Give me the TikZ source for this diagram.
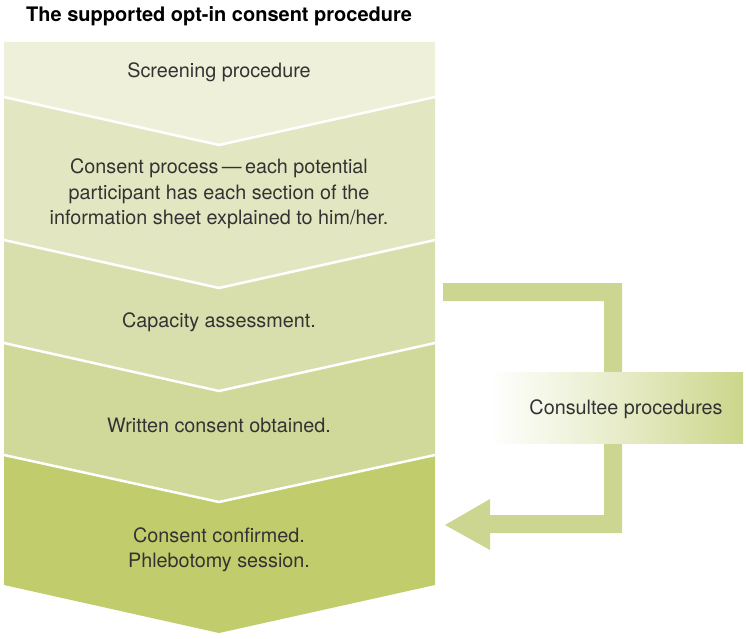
\documentclass[tikz,border=0pt]{standalone}
\usepackage{fontspec}
\setmainfont{TeX Gyre Heros}
\usetikzlibrary{shadings}
\definecolor{segA}{HTML}{EEF0D9}
\definecolor{segB}{HTML}{E3E7C1}
\definecolor{segC}{HTML}{D9DFAC}
\definecolor{segD}{HTML}{D0D99A}
\definecolor{segE}{HTML}{C1CD6C}
\definecolor{arrowgreen}{HTML}{CDD691}
\definecolor{boxgreen}{HTML}{CCD68A}
\definecolor{txt}{HTML}{333333}
\tikzset{
  steptext/.style={text=txt, font=\fontsize{19.8}{25.5}\selectfont, align=center, inner sep=0pt},
  sepline/.style={white, line width=2.5pt, line join=miter},
}
\begin{document}
\begin{tikzpicture}[x=1pt,y=-1pt]
\useasboundingbox (0,0) rectangle (746,639);
% title
\node[anchor=west, font=\fontsize{20}{24}\selectfont\bfseries, text=black, inner sep=0pt] (title) at (26,16) {The supported opt-in consent procedure};
% segments
\fill[segA] (4,42) -- (435,42) -- (435,97) -- (219,145) -- (4,97) -- cycle;
\fill[segB] (4,97) -- (219,145) -- (435,97) -- (435,240) -- (219,288) -- (4,240) -- cycle;
\fill[segC] (4,240) -- (219,288) -- (435,240) -- (435,343) -- (219,391) -- (4,343) -- cycle;
\fill[segD] (4,343) -- (219,391) -- (435,343) -- (435,455) -- (219,502) -- (4,455) -- cycle;
\fill[segE] (4,455) -- (219,502) -- (435,455) -- (435,585) -- (219,633) -- (4,585) -- cycle;
\draw[sepline] (4,97) -- (219,145) -- (435,97);
\draw[sepline] (4,240) -- (219,288) -- (435,240);
\draw[sepline] (4,343) -- (219,391) -- (435,343);
\draw[sepline] (4,455) -- (219,502) -- (435,455);
% texts
\node[steptext] (s1) at (219,72) {Screening procedure};
\node[steptext] (s2) at (219,194) {Consent process\,---\,each potential\\participant has each section of the\\information sheet explained to him/her.};
\node[steptext] (s3) at (219,322) {Capacity assessment.};
\node[steptext] (s4) at (219,425) {Written consent obtained.};
\node[steptext] (s5) at (219,550) {Consent confirmed.\\Phlebotomy session.};
% return arrow
\fill[arrowgreen] (443,283) -- (622,283) -- (622,533) -- (490,533) -- (490,550) -- (445,525) -- (490,499) -- (490,515) -- (604,515) -- (604,301) -- (443,301) -- cycle;
% consultee box
\shade[left color=white, right color=boxgreen, middle color=boxgreen!45] (488,372) rectangle (743,443);
\node[steptext] (cons) at (626,409) {Consultee procedures};
\end{tikzpicture}
\end{document}
